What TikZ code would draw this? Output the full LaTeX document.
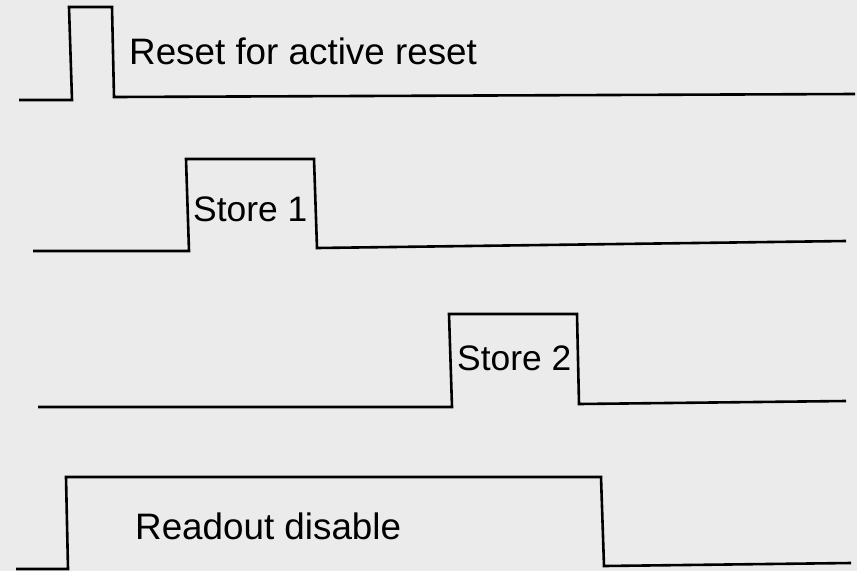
\documentclass[tikz,border=0pt]{standalone}
\usepackage{fontspec}
\setmainfont{Liberation Sans}
\definecolor{bgcol}{RGB}{235,235,235}
\tikzset{
  wave/.style={draw=black, line width=2.6pt, line join=miter},
  lbl/.style={anchor=base west, inner sep=0pt, font=\fontsize{36.8}{40}\selectfont},
  storelbl/.style={lbl, font=\fontsize{35.4}{40}\selectfont}
}
\begin{document}
\begin{tikzpicture}[x=1pt,y=-1pt]
\fill[bgcol] (0,0) rectangle (857,571);
\useasboundingbox (0,0) rectangle (857,571);
% Row 1
\coordinate (a0) at (19,100);
\coordinate (a1) at (72,100);
\coordinate (a2) at (69,7);
\coordinate (a3) at (112,7);
\coordinate (a4) at (114,97);
\coordinate (a5) at (855,94);
\draw[wave] (a0) -- (a1) -- (a2) -- (a3) -- (a4) -- (a5);
\node[lbl] (t1) at (129,64) {Reset for active reset};
% Row 2
\coordinate (b0) at (33,251);
\coordinate (b1) at (189,251);
\coordinate (b2) at (186,159);
\coordinate (b3) at (314,159);
\coordinate (b4) at (317,248);
\coordinate (b5) at (846,241);
\draw[wave] (b0) -- (b1) -- (b2) -- (b3) -- (b4) -- (b5);
\node[storelbl] (t2) at (193,221) {Store 1};
% Row 3
\coordinate (c0) at (38,407);
\coordinate (c1) at (452,407);
\coordinate (c2) at (449,314);
\coordinate (c3) at (577,314);
\coordinate (c4) at (579,404);
\coordinate (c5) at (846,401);
\draw[wave] (c0) -- (c1) -- (c2) -- (c3) -- (c4) -- (c5);
\node[storelbl] (t3) at (457,370) {Store 2};
% Row 4
\coordinate (d0) at (16,569);
\coordinate (d1) at (68,569);
\coordinate (d2) at (66,477);
\coordinate (d3) at (601,477);
\coordinate (d4) at (604,566);
\coordinate (d5) at (851,563);
\draw[wave] (d0) -- (d1) -- (d2) -- (d3) -- (d4) -- (d5);
\node[lbl] (t4) at (135,539) {Readout disable};
\end{tikzpicture}
\end{document}
